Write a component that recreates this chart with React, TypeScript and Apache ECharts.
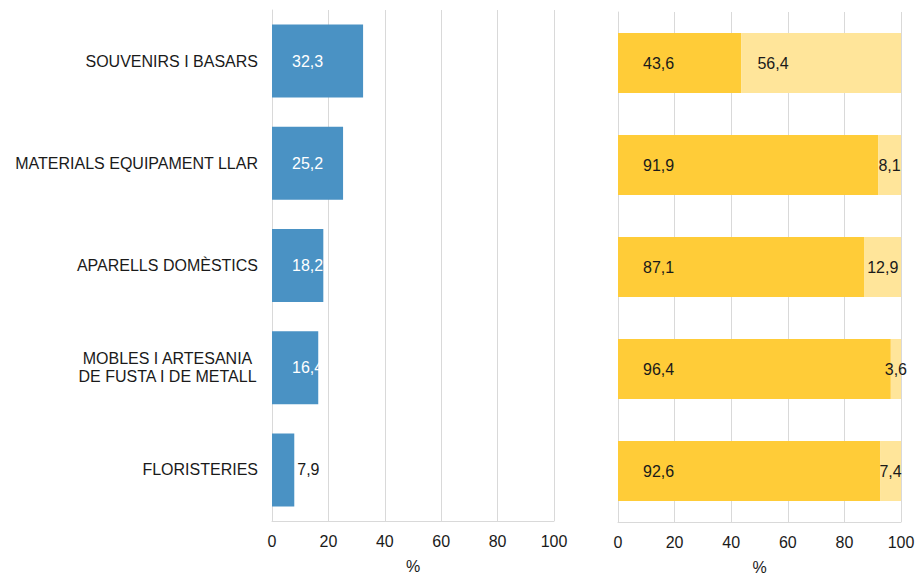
import React, { useEffect, useRef } from "react";
import * as echarts from "echarts";

const categories = [
  "SOUVENIRS I BASARS",
  "MATERIALS EQUIPAMENT LLAR",
  "APARELLS DOMÈSTICS",
  "MOBLES I ARTESANIA\nDE FUSTA I DE METALL",
  "FLORISTERIES",
];
const shareValues = [32.3, 25.2, 18.2, 16.4, 7.9];
const darkValues = [43.6, 91.9, 87.1, 96.4, 92.6];
const lightValues = [56.4, 8.1, 12.9, 3.6, 7.4];
const tickValues = [0, 20, 40, 60, 80, 100];
const axisName = "%";

const FONT = '"Liberation Sans", Arial, sans-serif';
const fmt = (v: number) => v.toFixed(1).replace(".", ",");

export default function App() {
  const ref = useRef<HTMLDivElement>(null);
  useEffect(() => {
    if (!ref.current) return;
    const chart = echarts.init(ref.current, undefined, { renderer: "svg" });
    const gridColor = "#D9D9D9";
    const xAxisBase = (gridIndex: number) => ({
      type: "value",
      gridIndex,
      min: tickValues[0],
      max: tickValues[tickValues.length - 1],
      interval: tickValues[1] - tickValues[0],
      name: axisName,
      nameLocation: "middle",
      nameGap: 37,
      nameTextStyle: { fontFamily: FONT, fontSize: 16, color: "#1a1a1a" },
      axisLine: { show: true, lineStyle: { color: gridColor, width: 1 } },
      axisTick: { show: false },
      axisLabel: { fontFamily: FONT, fontSize: 16, color: "#1a1a1a", margin: 12 },
      splitLine: { show: true, lineStyle: { color: gridColor, width: 1 } },
    });
    const yAxisBase = (gridIndex: number, showLabels: boolean) => ({
      type: "category",
      gridIndex,
      inverse: true,
      data: categories,
      axisLine: { show: true, lineStyle: { color: gridColor, width: 1 } },
      axisTick: { show: false },
      splitLine: { show: false },
      axisLabel: {
        show: showLabels,
        fontFamily: FONT,
        fontSize: 16,
        color: "#1a1a1a",
        margin: 14,
        lineHeight: 18,
        formatter: (v: string) =>
          v.includes("\n")
            ? v
                .split("\n")
                .map((l) => `{c|${l}}`)
                .join("\n")
            : v,
        rich: {
          c: {
            width: 181,
            align: "center",
            fontFamily: FONT,
            fontSize: 16,
            color: "#1a1a1a",
            lineHeight: 18,
          },
        },
      },
    });

    const option = {
      animation: false,
      backgroundColor: "#ffffff",
      grid: [
        { left: 272, width: 282, top: 10, height: 511, outerBoundsMode: "none", containLabel: false },
        { left: 618, width: 283, top: 12, height: 510, outerBoundsMode: "none", containLabel: false },
      ],
      xAxis: [xAxisBase(0), xAxisBase(1)],
      yAxis: [yAxisBase(0, true), yAxisBase(1, false)],
      series: [
        {
          type: "bar",
          xAxisIndex: 0,
          yAxisIndex: 0,
          barWidth: 73,
          itemStyle: { color: "#4A92C4" },
          data: shareValues.map((v) => ({
            value: v,
            label:
              v < 10
                ? { position: "right", distance: 3, color: "#1a1a1a" }
                : { position: "insideLeft", distance: 20, color: "#ffffff" },
          })),
          label: {
            show: true,
            fontFamily: FONT,
            fontSize: 16,
            formatter: (p: any) => fmt(p.value),
          },
        },
        {
          type: "bar",
          xAxisIndex: 1,
          yAxisIndex: 1,
          stack: "r",
          barWidth: 60,
          itemStyle: { color: "#FFCC38" },
          data: darkValues,
          label: {
            show: true,
            position: "insideLeft",
            distance: 25,
            fontFamily: FONT,
            fontSize: 16,
            color: "#1a1a1a",
            formatter: (p: any) => fmt(p.value),
          },
        },
        {
          type: "bar",
          xAxisIndex: 1,
          yAxisIndex: 1,
          stack: "r",
          barWidth: 60,
          itemStyle: { color: "#FFE59A" },
          data: lightValues.map((v) => ({
            value: v,
            label:
              v > 30
                ? { position: "insideLeft", distance: 16 }
                : { position: "inside" },
          })),
          label: {
            show: true,
            fontFamily: FONT,
            fontSize: 16,
            color: "#1a1a1a",
            formatter: (p: any) => fmt(p.value),
          },
        },
      ],
    };
    chart.setOption(option as any);
    return () => chart.dispose();
  }, []);
  return (
    <div
      ref={ref}
      style={{ position: "fixed", left: 0, top: 0, width: 917, height: 574 }}
    />
  );
}
